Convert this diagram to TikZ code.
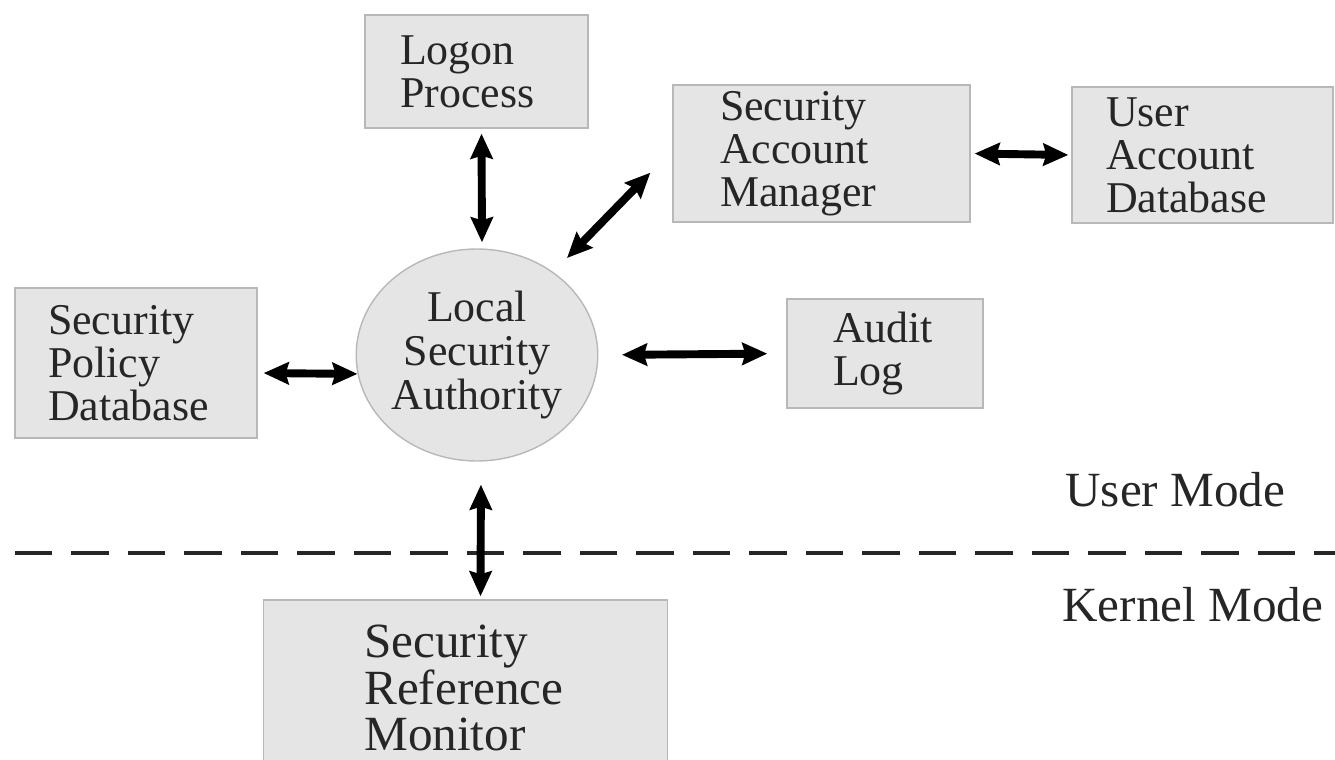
\documentclass[tikz,border=0pt]{standalone}
\usepackage{fontspec}
\setmainfont{Liberation Serif}
\usetikzlibrary{arrows.meta,shapes.geometric}

\begin{document}
\begin{tikzpicture}[x=0.02cm, y=-0.02cm, >={Stealth[length=0.5cm,width=0.44cm,inset=0.06cm]},
  box/.style={draw=black!28, line width=0.8pt, fill=black!10, text=black!85, align=left,
    inner ysep=0pt, font=\fontsize{25}{24.5}\selectfont},
  lsabox/.style={ellipse, draw=black!28, line width=0.8pt, fill=black!10, text=black!85,
    align=center, inner sep=0pt, minimum width=4.7cm, minimum height=4.24cm,
    font=\fontsize{25}{25}\selectfont},
  link/.style={<->, line width=4.5pt},
  mode/.style={anchor=west, inner sep=0pt, text=black!85, font=\fontsize{28}{28}\selectfont}]
\useasboundingbox (0,0) rectangle (1335,760);
\clip (0,0) rectangle (1335,760);

\node[box, minimum height=2.26cm, text width=3.06cm, inner xsep=0.7cm] (logon) at (476.5,71.5) {Logon\\Process};
\node[box, minimum height=2.74cm, text width=4.06cm, inner xsep=0.94cm] (sam) at (821.5,153.5) {Security\\Account\\Manager};
\node[box, minimum height=2.72cm, text width=3.86cm, inner xsep=0.68cm] (uad) at (1202.5,155) {User\\Account\\Database};
\node[box, minimum height=3cm, text width=3.52cm, inner xsep=0.66cm] (spd) at (136,363) {Security\\Policy\\Database};
\node[lsabox] (lsa) at (477,355) {Local\\Security\\Authority};
\node[box, minimum height=2.18cm, text width=2.08cm, inner xsep=0.92cm] (audit) at (885,353.5) {Audit\\Log};
\node[box, minimum height=3.52cm, text width=4.05cm, inner xsep=2.02cm,
  font=\fontsize{28}{26.6}\selectfont] (srm) at (465.5,688) {Security\\Reference\\Monitor};

\node[mode] (usermode) at (1065,490) {User Mode};
\node[mode] (kernelmode) at (1062,605) {Kernel Mode};

% user / kernel boundary
\coordinate (divL) at (15,553);
\coordinate (divR) at (1335,553);
\draw[line width=1.8pt, black!85, dash pattern=on 0.75cm off 0.38cm] (divL) -- (divR);

\path[link] ([shift={(5,0)}]logon.south) edge[shorten <=0.1cm, shorten >=0.12cm] ([shift={(5,0)}]lsa.north);
\path[link] ([shift={(90,-97)}]lsa.center) edge ([shift={(-22,-50)}]sam.south west);
\path[link] (sam.east) edge[shorten <=0.08cm, shorten >=0.06cm] (uad.west);
\path[link] ([shift={(0,10)}]spd.east) edge[shorten <=0.12cm] (lsa.189);
\path[link] (lsa.east) edge[shorten <=0.47cm, shorten >=0.38cm] (audit.west);
\path[link] ([shift={(4,0)}]lsa.south) edge[shorten <=0.46cm, shorten >=0.06cm] ([shift={(15,0)}]srm.north);

\end{tikzpicture}
\end{document}
